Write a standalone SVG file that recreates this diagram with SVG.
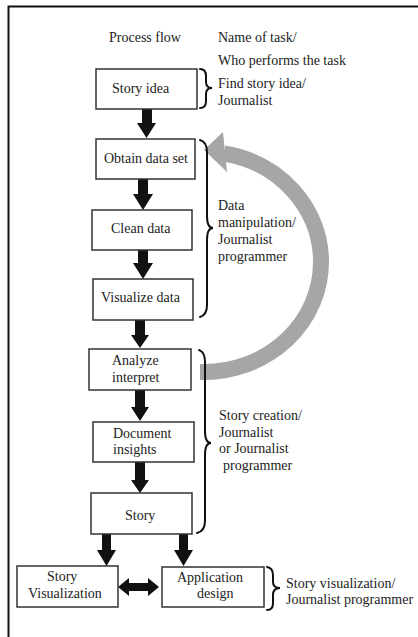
<svg xmlns="http://www.w3.org/2000/svg" width="418" height="637" viewBox="0 0 418 637">
  <style>
    .box { fill: #fff; stroke: #333; stroke-width: 1.5; }
    .blk { fill: #111; }
    .brace { fill: none; stroke: #111; stroke-width: 2; stroke-linecap: round; }
    .frame { stroke: #111; stroke-width: 2; fill: none; }
  </style>

  <rect width="418" height="637" fill="#fff"/>
  <!-- frame edges -->
  <path class="frame" d="M8.5 637 L8.5 6.5 L418 6.5"/>

  <g font-family="Liberation Serif, DejaVu Serif, serif" font-size="14" fill="#222">
  <!-- column headings -->
  <g id="headings">
    <text x="109" y="42">Process flow</text>
    <text x="218" y="42">Name of task/</text>
    <text x="218" y="65">Who performs the task</text>
  </g>

  <!-- feedback loop -->
  <g id="loop">
    <path d="M200 372 L204 372 A117 110 0 0 0 321 262 A117 110 0 0 0 224 153.5" fill="none" stroke="#a6a6a6" stroke-width="16"/>
    <polygon points="204,150 223,132 227,172" fill="#a6a6a6"/>
  </g>

  <!-- flow connectors -->
  <g id="connectors">
    <polygon class="blk" points="142,109 152,109 152,123 156,123 146.5,138 137,123 142,123"/>
    <polygon class="blk" points="138,179 148,179 148,194 153,194 143,210 133,194 138,194"/>
    <polygon class="blk" points="138,250 148,250 148,263 153,263 143,279 133,263 138,263"/>
    <polygon class="blk" points="135,320 145,320 145,335 149,335 140,348 131,335 135,335"/>
    <polygon class="blk" points="135,390 145,390 145,407 149,407 140,421 131,407 135,407"/>
    <polygon class="blk" points="135,462 145,462 145,480 149,480 140,493 131,480 135,480"/>
    <polygon class="blk" points="102,534 111,534 111,550 116,550 106.5,566 97,550 102,550"/>
    <polygon class="blk" points="179,534 188,534 188,550 193,550 183.5,566 174,550 179,550"/>
    <polygon class="blk" points="118,587 129,578 129,583 148,583 148,578 159,587 148,596 148,591 129,591 129,596"/>
  </g>

  <!-- process steps -->
  <g id="story-idea">
    <rect class="box" x="96" y="69" width="101" height="40"/>
    <text x="112" y="93">Story idea</text>
  </g>
  <g id="obtain-data">
    <rect class="box" x="96" y="139" width="99" height="40"/>
    <text x="104" y="163">Obtain data set</text>
  </g>
  <g id="clean-data">
    <rect class="box" x="92" y="210" width="100" height="40"/>
    <text x="111" y="233">Clean data</text>
  </g>
  <g id="visualize-data">
    <rect class="box" x="93" y="279" width="100" height="41"/>
    <text x="101" y="302">Visualize data</text>
  </g>
  <g id="analyze">
    <rect class="box" x="89" y="349" width="102" height="41"/>
    <text x="112" y="365">Analyze</text>
    <text x="112" y="382">interpret</text>
  </g>
  <g id="document">
    <rect class="box" x="93" y="422" width="101" height="40"/>
    <text x="113" y="438">Document</text>
    <text x="113" y="454">insights</text>
  </g>
  <g id="story">
    <rect class="box" x="91" y="493" width="101" height="41"/>
    <text x="125" y="520">Story</text>
  </g>
  <g id="story-visualization">
    <rect class="box" x="17" y="566" width="101" height="41"/>
    <text x="47" y="581">Story</text>
    <text x="28" y="598">Visualization</text>
  </g>
  <g id="application-design">
    <rect class="box" x="162" y="567" width="102" height="40"/>
    <text x="177" y="582">Application</text>
    <text x="197" y="598">design</text>
  </g>

  <!-- task groupings -->
  <g id="task-find-idea">
    <path class="brace" d="M200 69 Q206 69 206 76 L206 82 Q206 88 212 88 Q206 88 206 94 L206 101 Q206 108 200 108"/>
    <text x="218" y="88">Find story idea/</text>
    <text x="218" y="105">Journalist</text>
  </g>
  <g id="task-data">
    <path class="brace" d="M200 140 Q207 142 207 152 L207 216 Q207 228 213 228 Q207 228 207 240 L207 305 Q207 315 200 317"/>
    <text x="218" y="210">Data</text>
    <text x="218" y="227">manipulation/</text>
    <text x="218" y="244">Journalist</text>
    <text x="218" y="261">programmer</text>
  </g>
  <g id="task-story">
    <path class="brace" d="M199 350 Q205 352 205 362 L205 431 Q205 443 211 443 Q205 443 205 455 L205 521 Q205 531 197 533"/>
    <text x="219" y="420">Story creation/</text>
    <text x="219" y="437">Journalist</text>
    <text x="219" y="453">or Journalist</text>
    <text x="223" y="470">programmer</text>
  </g>
  <g id="task-visualization">
    <path class="brace" d="M267 567 Q273 568 273 575 L273 582 Q273 588 280 588 Q273 588 273 595 L273 603 Q273 610 267 610"/>
    <text x="286" y="588">Story visualization/</text>
    <text x="286" y="604">Journalist programmer</text>
  </g>
  </g>
</svg>
